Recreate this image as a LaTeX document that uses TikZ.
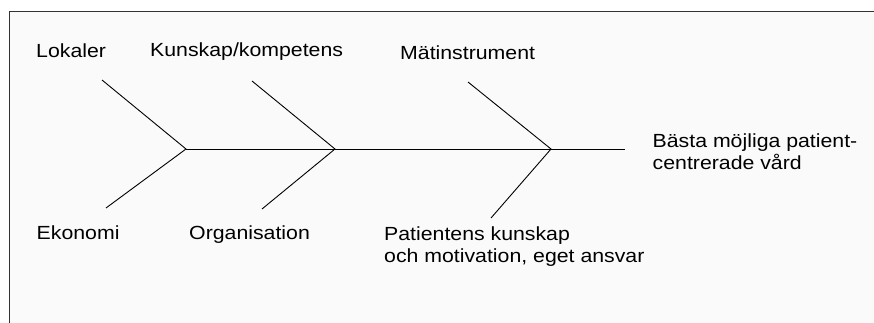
\documentclass[tikz,border=0pt]{standalone}
\usepackage{fontspec}
\setmainfont{Liberation Sans}[FakeStretch=1.12]
\begin{document}
\begin{tikzpicture}[x=1pt,y=-1pt,
  lbl/.style={anchor=base west,inner sep=0pt,align=left,font=\fontsize{19}{21.5}\selectfont},
  bone/.style={line width=0.9pt,black},
  frame/.style={line width=1.4pt,draw=black!80}]
\useasboundingbox (0,0) rectangle (874,323);
\fill[white] (0,0) rectangle (874,323);
\fill[black!2] (9.5,11.5) rectangle (874,323);
\draw[frame] (9.5,323) -- (9.5,11.5) -- (874,11.5);
% junctions and ends
\coordinate (j1) at (186,149);
\coordinate (j2) at (335,149);
\coordinate (j3) at (551,149);
\coordinate (head) at (625,149);
\coordinate (u1) at (102,80);
\coordinate (l1) at (106,208);
\coordinate (u2) at (252,81);
\coordinate (l2) at (262,209);
\coordinate (u3) at (468,82);
\coordinate (l3) at (491,218);
\draw[bone] (j1) -- (head);
\draw[bone] (u1) -- (j1) -- (l1);
\draw[bone] (u2) -- (j2) -- (l2);
\draw[bone] (u3) -- (j3) -- (l3);
% labels
\node[lbl] (lok) at (36,58) {Lokaler};
\node[lbl] (kun) at (150,57) {Kunskap/kompetens};
\node[lbl] (mat) at (400,60) {Mätinstrument};
\node[lbl] (eko) at (36.5,239) {Ekonomi};
\node[lbl] (org) at (189,239) {Organisation};
\node[lbl] (pat) at (384,262) {Patientens kunskap\\och motivation, eget ansvar};
\node[lbl] (res) at (652.5,169.5) {Bästa möjliga patient-\\centrerade vård};
\end{tikzpicture}
\end{document}
